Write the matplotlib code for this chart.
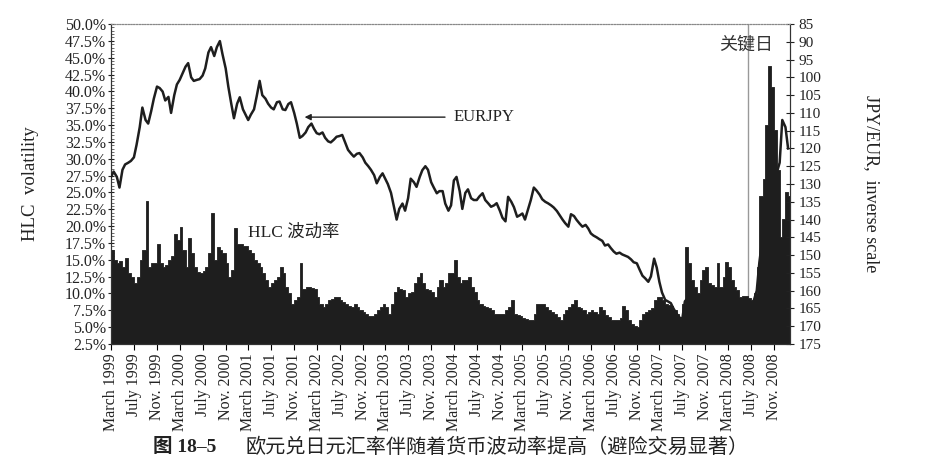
import numpy as np
import pandas as pd
import matplotlib
matplotlib.use("Agg")
import matplotlib.pyplot as plt
from matplotlib.ticker import FixedLocator, FuncFormatter, MultipleLocator

plt.rcParams['font.family'] = ['Liberation Serif', 'Noto Sans CJK SC', 'DejaVu Sans']

# EURJPY, semi-monthly readings (1st and 15th), March 1999 .. January 2009
eurjpy = [
    128, 126.5, 128, 131, 126, 124.5, 124, 123.5, 122.5, 119, 114, 108.5, 112, 113, 109.5, 106, 102.6, 103, 104, 106.5, 105.5, 110, 105, 102,
    100.7, 99, 97, 96, 100, 101, 100.7, 100.5, 99.5, 97.5, 93, 91.5, 94, 91.5, 89.8, 93.5, 97.5, 102.6, 107.5, 111.5, 107.4, 105.6, 109, 110.5,
    112, 110.5, 109, 105.4, 101, 105, 106, 107.4, 108.5, 109, 107, 106.8, 109, 109.2, 107.5, 107, 110, 113, 117, 116.5, 115.5, 114, 113, 114.5,
    115.7, 116, 115.5, 117, 118, 118.3, 117.5, 116.7, 116.5, 116.2, 118.5, 120.4, 121.5, 122.3, 121.5, 121.3, 122.5, 124, 125, 126, 127.5, 129.8, 128, 127,
    128.5, 130, 132.5, 136, 140, 137, 135.5, 137.5, 134, 128.5, 129.5, 130.8, 128, 126.1, 125, 126, 129.5, 131, 132.6, 132, 132, 135.5, 137.5, 136,
    129, 128, 132, 137, 132.5, 131.5, 134, 134.5, 134.5, 133.5, 132.6, 134.5, 135.5, 136.4, 136, 135.4, 137.5, 139.5, 140.5, 133.6, 135, 136.5, 139.2, 138.8,
    138.3, 140, 137, 134.5, 131, 131.8, 133, 134.3, 135, 135.4, 136, 136.6, 137.6, 138.7, 140, 141, 142, 138.5, 139, 140.1, 141.2, 142, 141.5, 142.5,
    143.9, 144.5, 145, 145.5, 146, 147.3, 147, 148, 149, 149.6, 149.3, 149.8, 150.2, 150.5, 151.2, 152, 152.3, 154, 155.8, 156.5, 157.5, 156, 151, 153.5,
    157.5, 160.5, 162.6, 163, 163.5, 165, 166.5, 167.5, 168, 163, 162, 163, 164, 165, 166, 165, 164, 163, 163, 162, 163, 164, 165, 164,
    163, 164, 165, 166, 166, 167, 167, 166, 165, 163, 160, 152, 145, 135, 125, 118, 122, 127, 124, 112, 114, 120,
]

# HLC volatility in percent, same dates
hlc_vol = [
    16.5, 15, 14.5, 14.8, 14, 15.3, 13, 12.5, 11.5, 12.5, 15, 16.5, 23.7, 14, 14.5, 14.5, 17.4, 14.5, 14, 14.2, 15, 15.5, 18.9, 18,
    19.9, 16.5, 14, 18.2, 16, 14, 13.2, 13, 13.3, 14, 16, 21.9, 15, 16.9, 16.5, 16, 14.5, 12.5, 13.5, 19.7, 17.4, 17.4, 17, 17,
    16.5, 16, 15, 14.5, 14, 13, 12, 11, 11.5, 12, 12.5, 14, 13, 11, 10, 8.5, 9, 9.5, 14.5, 10.7, 11, 11, 10.8, 10.7,
    9.5, 8.5, 8, 8.5, 9, 9.2, 9.5, 9.5, 9, 8.8, 8.5, 8.2, 8, 8.5, 8, 7.5, 7.2, 7, 6.6, 6.6, 7, 7.5, 8, 8.5,
    8, 7, 8.5, 10.2, 11, 10.7, 10.5, 9.5, 10, 10.2, 11.5, 12.5, 13, 11.5, 10.7, 10.5, 10.2, 9.5, 11, 12, 11, 11.5, 13, 13,
    15, 12.5, 11.5, 12, 12, 12.5, 11, 10.2, 9, 8.5, 8.2, 8, 7.8, 7.5, 7, 7, 7, 7, 7.5, 8, 9, 7, 6.8, 6.6,
    6.4, 6.2, 6.1, 6.1, 7, 8.5, 8.5, 8.5, 8, 7.5, 7.2, 7, 6.5, 6.1, 7, 7.5, 8, 8.5, 9, 8, 7.8, 7.5, 7, 7.2,
    7.5, 7.3, 7, 8, 7.5, 6.8, 6.5, 6.1, 6.1, 6.1, 6.3, 8.2, 7.5, 6.1, 5.5, 5.1, 5.0, 6, 7, 7.3, 7.5, 7.8, 9, 9.5,
    9.5, 9, 8.5, 8.3, 8.2, 7.5, 7, 6.5, 8.5, 16.9, 14.5, 12, 11, 10, 12, 13.5, 14, 11.5, 11.2, 11, 14.5, 11, 12.5, 14.7,
    14, 12, 11, 10.5, 9.5, 9.7, 9.7, 9.3, 9, 10, 14, 24.5, 27, 35, 43.7, 40.7, 34.3, 28.3, 18.4, 21, 25, 24.5,
]

dates = pd.date_range('1999-03-01', periods=len(hlc_vol), freq='SMS')

tick_years = list(range(1999, 2009))
tick_months = [(3, 'March'), (7, 'July'), (11, 'Nov.')]
key_day = pd.Timestamp('2008-06-15')

fig = plt.figure(figsize=(9.33, 4.69), dpi=100)
ax = fig.add_axes([0.119, 0.2665, 0.7277, 0.6823])
ax2 = ax.twinx()

dark = '#1e1e1e'

# volatility as a solid stepped area (left scale)
edges = list(dates) + [dates[-1] + pd.Timedelta(days=15)]
ax.fill_between(edges, hlc_vol + [hlc_vol[-1]], 0, step='post',
                facecolor=dark, edgecolor=dark, linewidth=0.6, zorder=2)
ax.set_ylim(2.5, 50)
ax.yaxis.set_major_locator(FixedLocator(np.arange(2.5, 50.01, 2.5)))
ax.yaxis.set_minor_locator(MultipleLocator(0.5))
ax.yaxis.set_major_formatter(FuncFormatter(lambda v, p: '%.1f%%' % v))
ax.set_ylabel('HLC  volatility', fontsize=13.5, color='#222', labelpad=19)

# EURJPY line (right scale, inverted)
ax2.plot(dates, eurjpy, color=dark, lw=1.8, zorder=3)
ax2.set_ylim(175, 85)
ax2.yaxis.set_major_locator(FixedLocator(np.arange(85, 176, 5)))
ax2.set_ylabel('JPY/EUR,  inverse scale', fontsize=13, color='#222',
               rotation=270, labelpad=42)

ax.set_xlim(pd.Timestamp('1999-03-01'), pd.Timestamp('2009-01-25'))
ticks = []
labels = []
for y in tick_years:
    for m, name in tick_months:
        ticks.append(pd.Timestamp(y, m, 1))
        labels.append('%s %d' % (name, y))
ax.set_xticks(ticks)
ax.set_xticklabels(labels, rotation=90, fontsize=11.5, color='#222')

ax.tick_params(axis='y', which='major', direction='inout', length=5, labelsize=11.5, colors='#222', pad=1)
ax.tick_params(axis='y', which='minor', direction='in', length=2, color='#555')
ax2.tick_params(axis='y', direction='inout', length=6, labelsize=11, colors='#222', pad=3)
ax.tick_params(axis='x', direction='out', length=4, pad=3)

for a in (ax, ax2):
    a.spines['top'].set_linestyle((0, (1, 1.5)))
    a.spines['top'].set_color('#888')
    a.spines['left'].set_color('#333')
    a.spines['right'].set_color('#333')
    a.spines['bottom'].set_color('#333')

# key day marker
ax.axvline(key_day, color='#999', lw=1, zorder=1)
ax.text(0.935, 0.934, '关键日', transform=ax.transAxes, ha='center', va='center',
        fontsize=13, color='#333', family=['Noto Sans CJK SC'], zorder=5)

# annotations
ax.annotate('', xy=(0.281, 0.709), xytext=(0.496, 0.709), xycoords='axes fraction',
            arrowprops=dict(arrowstyle='-|>', color='#222', lw=1, mutation_scale=9))
ax.text(0.505, 0.709, 'EURJPY', transform=ax.transAxes, ha='left', va='center',
        fontsize=12, color='#222')
ax.text(0.202, 0.347, 'HLC 波动率', transform=ax.transAxes, ha='left', va='center',
        fontsize=12.5, color='#222', zorder=5)

# caption
fig.text(0.164, 0.047, '图 18–5', ha='left', va='center', fontsize=14,
         fontweight='bold', color='#222')
fig.text(0.2626, 0.047, '欧元兑日元汇率伴随着货币波动率提高（避险交易显著）', ha='left',
         va='center', fontsize=14.5, color='#222', family=['Noto Sans CJK SC'])

fig.savefig('out.png', dpi=100)
